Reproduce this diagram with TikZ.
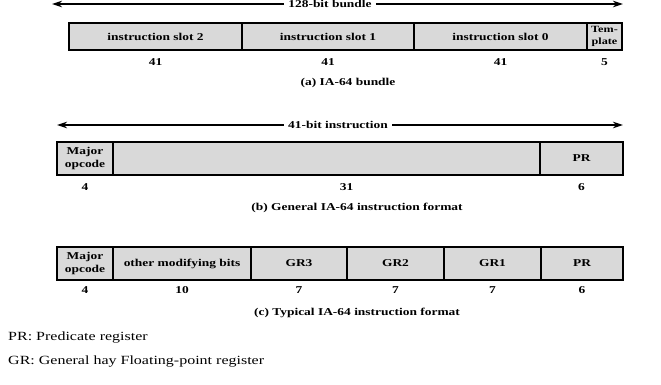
\documentclass[tikz,border=0pt]{standalone}
\usepackage{fontspec}
\setmainfont{Liberation Serif}[FakeStretch=1.28]
\usetikzlibrary{arrows,arrows.meta}
\usetikzlibrary{positioning}
\definecolor{fieldgray}{RGB}{217,217,217}

\begin{document}
\begin{tikzpicture}[x=1pt, y=-1pt, node distance=0pt, auto,
    field/.style={draw, rectangle, line width=1.4pt, fill=fieldgray, outer sep=0pt, inner sep=1pt, align=center, font=\bfseries\fontsize{10.5}{12.5}\selectfont},
    bits/.style={inner sep=1pt, font=\bfseries\fontsize{10.5}{12}\selectfont},
    caption/.style={inner sep=1pt, font=\bfseries\fontsize{10.5}{12}\selectfont},
    spanlbl/.style={inner sep=4pt, font=\bfseries\fontsize{10.5}{12}\selectfont},
    span/.style={line width=1.1pt, -{Stealth[length=10pt, width=6.5pt, inset=3pt]}}]

    \useasboundingbox (0,0) rectangle (661,385);

    % (a) bundle
    \node [spanlbl] (bundlelbl) at (330,4) {128-bit bundle};
    \coordinate (bundleL) at (52,4);
    \coordinate (bundleR) at (623,4);
    \draw [span] (bundlelbl) -- (bundleL);
    \draw [span] (bundlelbl) -- (bundleR);

    \node [field, anchor=north west, minimum width=173pt, minimum height=27pt] (slot2) at (69,23) {instruction slot 2};
    \node [field, right=of slot2, minimum width=172pt, minimum height=27pt] (slot1) {instruction slot 1};
    \node [field, right=of slot1, minimum width=173pt, minimum height=27pt] (slot0) {instruction slot 0};
    \node [field, right=of slot0, minimum width=35pt, minimum height=27pt, font=\bfseries\fontsize{9.5}{12}\selectfont] (tmpl) {Tem-\\plate};

    \node [bits, below=7pt of slot2] (slot2bits) {41};
    \node [bits, below=7pt of slot1] (slot1bits) {41};
    \node [bits, below=7pt of slot0] (slot0bits) {41};
    \node [bits, below=7pt of tmpl] (tmplbits) {5};
    \node [caption] (capA) at (348,83) {(a) IA-64 bundle};

    % (b) general format
    \node [spanlbl] (instlbl) at (338,125) {41-bit instruction};
    \coordinate (instL) at (57,125);
    \coordinate (instR) at (623,125);
    \draw [span] (instlbl) -- (instL);
    \draw [span] (instlbl) -- (instR);

    \node [field, anchor=north west, minimum width=56pt, minimum height=33pt] (genop) at (57,142) {Major\\opcode};
    \node [field, right=of genop, minimum width=427pt, minimum height=33pt] (genrest) {};
    \node [field, right=of genrest, minimum width=83pt, minimum height=33pt] (genpr) {PR};

    \node [bits, below=7pt of genop] (genopbits) {4};
    \node [bits, below=7pt of genrest, xshift=20pt] (genrestbits) {31};
    \node [bits, below=7pt of genpr] (genprbits) {6};
    \node [caption] (capB) at (357,208) {(b) General IA-64 instruction format};

    % (c) typical format
    \node [field, anchor=north west, minimum width=56pt, minimum height=33pt] (typop) at (57,247) {Major\\opcode};
    \node [field, right=of typop, minimum width=138pt, minimum height=33pt] (typmod) {other modifying bits};
    \node [field, right=of typmod, minimum width=96pt, minimum height=33pt] (gr3) {GR3};
    \node [field, right=of gr3, minimum width=97pt, minimum height=33pt] (gr2) {GR2};
    \node [field, right=of gr2, minimum width=97pt, minimum height=33pt] (gr1) {GR1};
    \node [field, right=of gr1, minimum width=82pt, minimum height=33pt] (typpr) {PR};

    \node [bits, below=5pt of typop] (typopbits) {4};
    \node [bits, below=5pt of typmod] (typmodbits) {10};
    \node [bits, below=5pt of gr3] (gr3bits) {7};
    \node [bits, below=5pt of gr2] (gr2bits) {7};
    \node [bits, below=5pt of gr1] (gr1bits) {7};
    \node [bits, below=5pt of typpr] (typprbits) {6};
    \node [caption] (capC) at (357,313) {(c) Typical IA-64 instruction format};

    % legend
    \node [anchor=west, inner sep=0pt, font=\fontsize{12.5}{15}\selectfont] (prnote) at (8,338) {PR: Predicate register};
    \node [anchor=west, inner sep=0pt, font=\fontsize{12.5}{15}\selectfont] (grnote) at (8,362) {GR: General hay Floating-point register};

\end{tikzpicture}
\end{document}
